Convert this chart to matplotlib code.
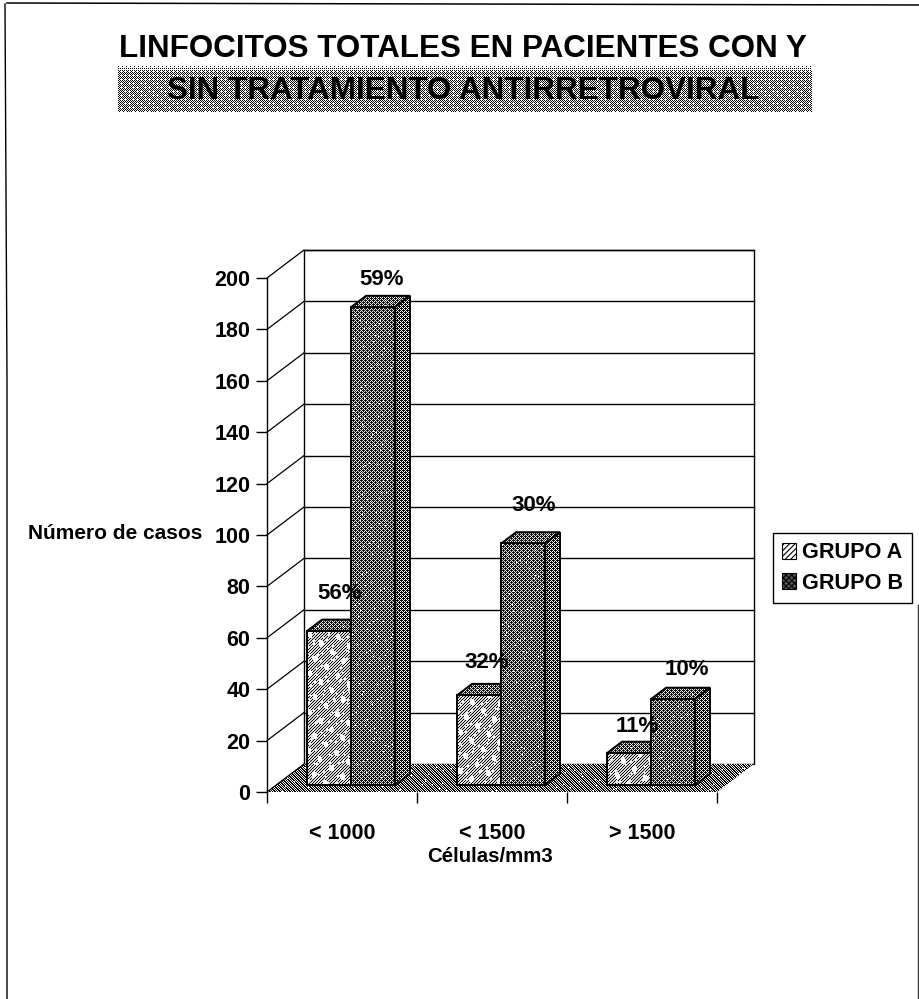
import numpy as np
import matplotlib
matplotlib.use('Agg')
import matplotlib.pyplot as plt
from matplotlib.patches import Polygon, Patch
from matplotlib.transforms import IdentityTransform

plt.rcParams['font.family'] = ['Liberation Sans', 'DejaVu Sans']
plt.rcParams['hatch.linewidth'] = 0.8

# datos del grafico
categorias = ['< 1000', '< 1500', '> 1500']
grupos = ['GRUPO A', 'GRUPO B']
casos_a = [60, 35, 12.5]
casos_b = [186, 94, 33.5]
pct_a = ['56%', '32%', '11%']
pct_b = ['59%', '30%', '10%']
ticks_y = list(range(0, 201, 20))

W, H = 920, 999
fig = plt.figure(figsize=(W / 100, H / 100), dpi=100, facecolor='white')

# tramas de semitono en pixeles
yy, xx = np.mgrid[0:H, 0:W]
bayer = np.array([[0, 8, 2, 10], [12, 4, 14, 6], [3, 11, 1, 9], [15, 7, 13, 5]]) / 16


def trama(nivel):
    return (bayer[yy % 4, xx % 4] >= nivel).astype(float)


motas = ((xx * 3 + yy * 5) % 67 == 0) | ((xx * 7 + yy * 2) % 89 == 0)
motas = motas | np.roll(motas, 1, axis=0) | np.roll(motas, 1, axis=1)
manchas = (np.sin(xx / 2.3 + yy / 6.0) + np.sin(yy / 3.1 - xx / 4.0)) > 1.35

rayas = ((xx + yy) % 3 != 0).astype(float) * 0.85
rayas[manchas] = 1
rayas[motas] = 1
oscuro = ((xx + yy) % 2 == 0) * 0.1 + trama(0.6) * 0.9
oscuro[motas & ((xx + 2 * yy) % 5 == 0)] = 1
lateral = trama(0.6)
lateral[(xx + yy) % 4 == 0] = 0
piso = np.isin((xx - yy) % 5, [0, 2]).astype(float)
piso[(xx * 5 + yy * 3) % 97 == 0] = 1
piso[(xx * 3 - yy * 7) % 131 == 0] = 1

# pagina: marco, banda y titulo
page = fig.add_axes([0, 0, 1, 1])
page.set_xlim(0, W)
page.set_ylim(H, 0)
page.axis('off')
page.plot([7, 7, 5], [H, 380, 4], color='black', lw=1)
page.plot([7, 920], [3, 5], color='black', lw=1.1)
page.plot([918, 918], [H, 605], color='#333333', lw=1)

nivel_banda = np.clip((yy - 64) / 20, 0, 0.42)
banda = (bayer[yy % 4, xx % 4] >= nivel_banda).astype(float)
banda[(yy > 80) & ((xx - yy) % 6 == 0)] = 0
parche = page.add_patch(Polygon([(118, 64), (812, 64), (812, 112), (118, 112)], fc='white', ec='none'))
im = page.imshow(banda, extent=(0, W, 0, H), transform=IdentityTransform(), cmap='gray', vmin=0, vmax=1,
                 aspect='auto', interpolation='nearest', origin='upper', zorder=2)
im.set_clip_path(parche)
page.set_xlim(0, W)
page.set_ylim(H, 0)
page.text(463, 70, 'LINFOCITOS TOTALES EN PACIENTES CON Y\nSIN TRATAMIENTO ANTIRRETROVIRAL',
          ha='center', va='center', fontsize=22.6, fontweight='bold', linespacing=1.55, color='black', zorder=3)

# ejes del plano frontal
ax = fig.add_axes([267 / W, (H - 792) / H, 450 / W, 514 / H])
ax.patch.set_visible(False)
ax.set_autoscale_on(False)
ax.set_xlim(0, 3)
ax.set_ylim(0, 200)
for lado in ['top', 'right', 'bottom']:
    ax.spines[lado].set_visible(False)
ax.spines['left'].set_linewidth(1)
ax.set_yticks(ticks_y)
ax.set_yticklabels([str(t) for t in ticks_y], fontsize=15.5, fontweight='bold')
ax.tick_params(axis='y', length=8, width=1, pad=4)
ax.set_xticks([0, 1, 2, 3])
ax.set_xticklabels([])
ax.tick_params(axis='x', which='major', length=8, width=1)
ax.set_xticks([0.5, 1.5, 2.5], minor=True)
ax.set_xticklabels(categorias, minor=True, fontsize=15.5, fontweight='bold')
ax.tick_params(axis='x', which='minor', length=0, pad=22)
ax.set_ylabel('Número de casos', rotation=0, fontsize=15, fontweight='bold', ha='right', va='center')
ax.yaxis.set_label_coords(-0.144, 0.502)
ax.set_xlabel('Células/mm3', fontsize=14.7, fontweight='bold', va='center')
ax.xaxis.set_label_coords(0.496, -0.125)

# profundidad de la perspectiva en unidades de datos
prof_x = 37 / 150
prof_y = 28 / 2.57
ancho = 0.293
hueco = 0.207
frente, fondo = 0.25, 0.65
z = [5]


def cara(puntos, textura=None, color='white', lw=1.4):
    z[0] += 1
    p = ax.add_patch(Polygon(puntos, closed=True, fc=color, ec='none', zorder=z[0], clip_on=False))
    if textura is not None:
        z[0] += 1
        tex = ax.imshow(textura, extent=(0, W, 0, H), transform=IdentityTransform(), cmap='gray', vmin=0, vmax=1,
                        aspect='auto', interpolation='nearest', origin='upper', zorder=z[0])
        tex.set_clip_box(fig.bbox)
        tex.set_clip_path(p)
    if lw:
        z[0] += 1
        ax.add_patch(Polygon(puntos, closed=True, fc='none', ec='black', lw=lw, zorder=z[0], clip_on=False))


def proy(x, y, f):
    return (x + f * prof_x, y + f * prof_y)


# paredes y piso
cara([proy(0, 0, 1), proy(3, 0, 1), proy(3, 200, 1), proy(0, 200, 1)], lw=1)
cara([proy(0, 0, 0), proy(3, 0, 0), proy(3, 0, 1), proy(0, 0, 1)], textura=piso, lw=0)
for t in ticks_y:
    z[0] += 1
    a = proy(0, t, 0)
    b = proy(0, t, 1)
    c = proy(3, t, 1)
    if t > 0:
        ax.plot([b[0], c[0]], [b[1], c[1]], color='black', lw=1, zorder=z[0], clip_on=False)
    ax.plot([a[0], b[0]], [a[1], b[1]], color='black', lw=0.9, zorder=z[0], clip_on=False)


def barra(x0, valor, tex_frente, tex_lado, tex_sup):
    x1 = x0 + ancho
    cara([proy(x0, valor, frente), proy(x1, valor, frente), proy(x1, valor, fondo), proy(x0, valor, fondo)], tex_sup)
    cara([proy(x1, 0, frente), proy(x1, 0, fondo), proy(x1, valor, fondo), proy(x1, valor, frente)], tex_lado)
    cara([proy(x0, 0, frente), proy(x1, 0, frente), proy(x1, valor, frente), proy(x0, valor, frente)], tex_frente)


# barras y porcentajes encima
desp_a = [(-4, 26), (-7, 21), (-7, 15)]
desp_b = [(-6, 16), (-4, 27), (-1, 18)]
etiquetas = []
for i in range(len(categorias)):
    xa = i + hueco
    xb = xa + ancho
    barra(xa, casos_a[i], rayas, lateral, oscuro)
    barra(xb, casos_b[i], oscuro, lateral, oscuro)
    etiquetas.append((proy(xa + ancho / 2, casos_a[i], fondo), pct_a[i], desp_a[i]))
    etiquetas.append((proy(xb + ancho / 2, casos_b[i], fondo), pct_b[i], desp_b[i]))

for punto, texto, desp in etiquetas:
    ax.annotate(texto, xy=punto, xytext=desp, textcoords='offset pixels', ha='center', va='center',
                fontsize=16, fontweight='bold', color='black', zorder=500, annotation_clip=False)

# leyenda
asas = [Patch(fc='white', ec='black', hatch='//////', lw=0.8), Patch(fc='#555555', ec='black', hatch='xxxxxx', lw=0.8)]
leg = ax.legend(asas, grupos, loc='center left', bbox_to_anchor=(773 / W, (H - 568) / H),
                bbox_transform=fig.transFigure, frameon=True, fancybox=False, edgecolor='black',
                framealpha=1, borderpad=0.4, labelspacing=0.45, handlelength=0.68, handleheight=0.75,
                handletextpad=0.25, borderaxespad=0, prop={'weight': 'bold', 'size': 15.6})
leg.get_frame().set_linewidth(1)
leg.set_zorder(600)

fig.savefig('out.png', dpi=100)
